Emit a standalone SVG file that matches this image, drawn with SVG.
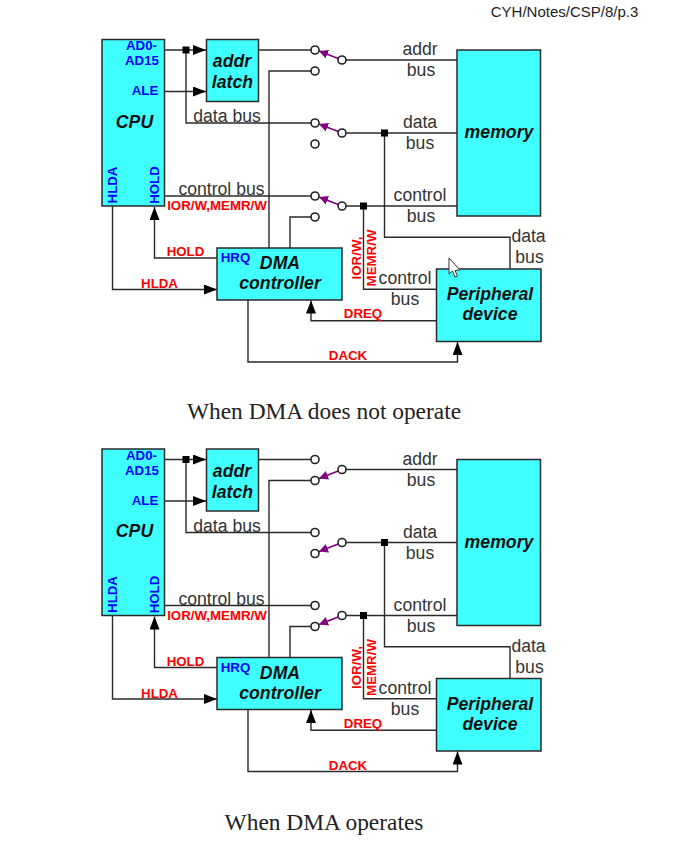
<svg xmlns="http://www.w3.org/2000/svg" width="673" height="846" viewBox="0 0 673 846">
<style>
text{font-family:"Liberation Sans",Arial,sans-serif;text-anchor:middle}
.box{fill:#3fffff;stroke:#2a2a2a;stroke-width:1.5}
.w{fill:none;stroke:#2a2a2a;stroke-width:1.4}
.sw{fill:#fff;stroke:#222;stroke-width:1.6}
.lev{fill:none;stroke:#800080;stroke-width:1.7;marker-end:url(#p)}
.n{font-style:italic;font-size:17.7px;fill:#111;font-weight:bold}
.b{font-size:17.6px;fill:#333}
.bl{font-size:13.3px;font-weight:bold;fill:#0000ff}
.r{font-size:13.3px;font-weight:bold;fill:#ff0000}
.cap{font-family:"Liberation Serif",serif;font-size:23.4px;fill:#222}
</style>
<defs>
<marker id="a" markerUnits="userSpaceOnUse" markerWidth="14" markerHeight="10" refX="13" refY="5" orient="auto"><path d="M0 0L13 5L0 10Z" fill="#000"/></marker>
<marker id="p" markerUnits="userSpaceOnUse" markerWidth="10" markerHeight="10" refX="9" refY="4.500" orient="auto"><path d="M0 0L9 4.500L0 9Z" fill="#800080"/></marker>
</defs>
<rect width="673" height="846" fill="#fff"/>
<text id="header" x="564.500" y="17" style="font-size:15px;fill:#222">CYH/Notes/CSP/8/p.3</text>

<g id="panel-idle">
<g id="connectors-idle">
<path class="w" marker-end="url(#a)" d="M164 50H206"/><path class="w" marker-end="url(#a)" d="M164 91.5H206"/>
<path class="w" d="M186 50V123H315"/><path class="w" d="M258 50H315"/>
<path class="w" d="M315 71H269V248"/><path class="w" d="M164 196H315"/>
<path class="w" d="M315 217H290V248"/>
<path class="w" marker-end="url(#a)" d="M217 258H154.5V207"/><path class="w" marker-end="url(#a)" d="M112.5 206V289.5H217"/>
<path class="w" marker-end="url(#a)" d="M248 300V362H457.5V342"/><path class="w" marker-end="url(#a)" d="M436.5 320.7H311V300.5"/>
<path class="w" d="M342 60H457"/><path class="w" d="M342 133H457"/><path class="w" d="M342 206H457"/>
<path class="w" d="M363.5 206V289.3H436.5"/><path class="w" d="M384.5 133V237.3H510V269"/>
<rect x="182.500" y="46.500" width="7" height="7" fill="#000"/><rect x="381" y="129.500" width="7" height="7" fill="#000"/><rect x="360" y="202.500" width="7" height="7" fill="#000"/>
<path class="lev" d="M342 60L319 51"/><path class="lev" d="M342 133L319 124"/><path class="lev" d="M342 206L319 197"/>
<circle class="sw" cx="315" cy="50" r="4"/><circle class="sw" cx="315" cy="71" r="4"/><circle class="sw" cx="342" cy="60" r="4"/>
<circle class="sw" cx="315" cy="123" r="4"/><circle class="sw" cx="315" cy="144" r="4"/><circle class="sw" cx="342" cy="133" r="4"/>
<circle class="sw" cx="315" cy="196" r="4"/><circle class="sw" cx="315" cy="217" r="4"/><circle class="sw" cx="342" cy="206" r="4"/>
</g>
<g id="cpu-idle"><rect class="box" x="102" y="39.500" width="62.500" height="166.500"/>
<text class="n" x="134.500" y="127.500">CPU</text>
<text class="bl" x="141.500" y="50">AD0-</text><text class="bl" x="142" y="65">AD15</text><text class="bl" x="145" y="95">ALE</text>
<text class="bl" transform="translate(116.500,185) rotate(-90)">HLDA</text><text class="bl" transform="translate(158.500,185) rotate(-90)">HOLD</text></g>
<g id="latch-idle"><rect class="box" x="206.500" y="39.500" width="52" height="62"/><text class="n" x="232" y="67">addr</text><text class="n" x="232.500" y="88">latch</text></g>
<g id="memory-idle"><rect class="box" x="457" y="50" width="83.500" height="166"/><text class="n" x="499" y="138">memory</text></g>
<g id="dma-idle"><rect class="box" x="217" y="248" width="125" height="52"/><text class="bl" x="235.500" y="262">HRQ</text><text class="n" x="280" y="269">DMA</text><text class="n" x="280" y="289">controller</text></g>
<g id="peripheral-idle"><rect class="box" x="436.500" y="269" width="104.500" height="72.500"/><text class="n" x="490" y="300">Peripheral</text><text class="n" x="490" y="320">device</text></g>
<g id="labels-idle">
<text class="b" x="227" y="122">data bus</text><text class="b" x="221.500" y="195">control bus</text>
<text class="r" x="217" y="210">IOR/W,MEMR/W</text>
<text class="b" x="420" y="55">addr</text><text class="b" x="421" y="76">bus</text><text class="b" x="420" y="128">data</text><text class="b" x="420" y="149">bus</text><text class="b" x="420" y="201">control</text><text class="b" x="421" y="222">bus</text>
<text class="b" x="528.500" y="242">data</text><text class="b" x="529.500" y="263">bus</text><text class="b" x="405" y="284">control</text><text class="b" x="405" y="305">bus</text>
<text class="r" x="185.500" y="256">HOLD</text><text class="r" x="159.500" y="288">HLDA</text><text class="r" x="363" y="318">DREQ</text><text class="r" x="348" y="360">DACK</text>
<text class="r" transform="translate(360.500,258) rotate(-90)">IOR/W,</text><text class="r" transform="translate(376,258) rotate(-90)">MEMR/W</text>
</g>
<path id="cursor" d="M449 258V274L452.500 271L455 277L457.500 276L455 270.500L460 270Z" fill="#fff" stroke="#333" stroke-width="1"/>
<text id="caption-idle" class="cap" x="324" y="419">When DMA does not operate</text>
</g>

<g id="panel-dma" transform="translate(0,409.500)">
<g id="connectors-dma">
<path class="w" marker-end="url(#a)" d="M164 50H206"/><path class="w" marker-end="url(#a)" d="M164 91.5H206"/>
<path class="w" d="M186 50V123H315"/><path class="w" d="M258 50H315"/>
<path class="w" d="M315 71H269V248"/><path class="w" d="M164 196H315"/>
<path class="w" d="M315 217H290V248"/>
<path class="w" marker-end="url(#a)" d="M217 258H154.5V207"/><path class="w" marker-end="url(#a)" d="M112.5 206V289.5H217"/>
<path class="w" marker-end="url(#a)" d="M248 300V362H457.5V342"/><path class="w" marker-end="url(#a)" d="M436.5 320.7H311V300.5"/>
<path class="w" d="M342 60H457"/><path class="w" d="M342 133H457"/><path class="w" d="M342 206H457"/>
<path class="w" d="M363.5 206V289.3H436.5"/><path class="w" d="M384.5 133V237.3H510V269"/>
<rect x="182.500" y="46.500" width="7" height="7" fill="#000"/><rect x="381" y="129.500" width="7" height="7" fill="#000"/><rect x="360" y="202.500" width="7" height="7" fill="#000"/>
<path class="lev" d="M342 60L319 69"/><path class="lev" d="M342 133L319 142"/><path class="lev" d="M342 206L319 215"/>
<circle class="sw" cx="315" cy="50" r="4"/><circle class="sw" cx="315" cy="71" r="4"/><circle class="sw" cx="342" cy="60" r="4"/>
<circle class="sw" cx="315" cy="123" r="4"/><circle class="sw" cx="315" cy="144" r="4"/><circle class="sw" cx="342" cy="133" r="4"/>
<circle class="sw" cx="315" cy="196" r="4"/><circle class="sw" cx="315" cy="217" r="4"/><circle class="sw" cx="342" cy="206" r="4"/>
</g>
<g id="cpu-dma"><rect class="box" x="102" y="39.500" width="62.500" height="166.500"/>
<text class="n" x="134.500" y="127.500">CPU</text>
<text class="bl" x="141.500" y="50">AD0-</text><text class="bl" x="142" y="65">AD15</text><text class="bl" x="145" y="95">ALE</text>
<text class="bl" transform="translate(116.500,185) rotate(-90)">HLDA</text><text class="bl" transform="translate(158.500,185) rotate(-90)">HOLD</text></g>
<g id="latch-dma"><rect class="box" x="206.500" y="39.500" width="52" height="62"/><text class="n" x="232" y="67">addr</text><text class="n" x="232.500" y="88">latch</text></g>
<g id="memory-dma"><rect class="box" x="457" y="50" width="83.500" height="166"/><text class="n" x="499" y="138">memory</text></g>
<g id="dma-dma"><rect class="box" x="217" y="248" width="125" height="52"/><text class="bl" x="235.500" y="262">HRQ</text><text class="n" x="280" y="269">DMA</text><text class="n" x="280" y="289">controller</text></g>
<g id="peripheral-dma"><rect class="box" x="436.500" y="269" width="104.500" height="72.500"/><text class="n" x="490" y="300">Peripheral</text><text class="n" x="490" y="320">device</text></g>
<g id="labels-dma">
<text class="b" x="227" y="122">data bus</text><text class="b" x="221.500" y="195">control bus</text>
<text class="r" x="217" y="210">IOR/W,MEMR/W</text>
<text class="b" x="420" y="55">addr</text><text class="b" x="421" y="76">bus</text><text class="b" x="420" y="128">data</text><text class="b" x="420" y="149">bus</text><text class="b" x="420" y="201">control</text><text class="b" x="421" y="222">bus</text>
<text class="b" x="528.500" y="242">data</text><text class="b" x="529.500" y="263">bus</text><text class="b" x="405" y="284">control</text><text class="b" x="405" y="305">bus</text>
<text class="r" x="185.500" y="256">HOLD</text><text class="r" x="159.500" y="288">HLDA</text><text class="r" x="363" y="318">DREQ</text><text class="r" x="348" y="360">DACK</text>
<text class="r" transform="translate(360.500,258) rotate(-90)">IOR/W,</text><text class="r" transform="translate(376,258) rotate(-90)">MEMR/W</text>
</g>
<text id="caption-dma" class="cap" x="324" y="420">When DMA operates</text>
</g>
</svg>
